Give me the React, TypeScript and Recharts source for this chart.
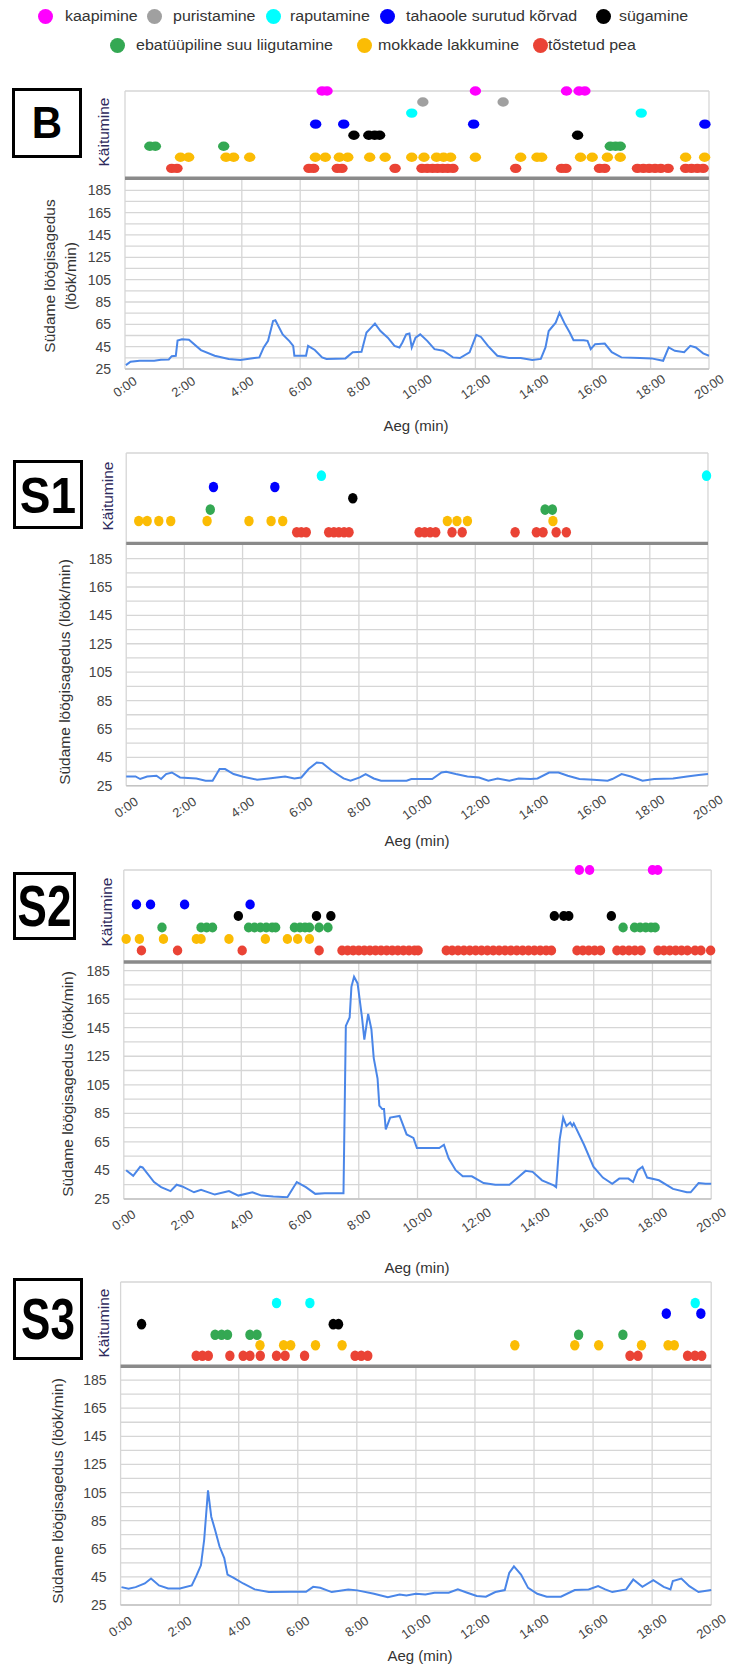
import React from 'react';
import { ScatterChart, Scatter, LineChart, Line, XAxis, YAxis, CartesianGrid, ReferenceLine } from 'recharts';

// ---------- shared axes ----------
const timeTicks = [0, 2, 4, 6, 8, 10, 12, 14, 16, 18, 20];
const timeTickLabels = ['0:00', '2:00', '4:00', '6:00', '8:00', '10:00', '12:00', '14:00', '16:00', '18:00', '20:00'];
const hrGridTicks = [25, 35, 45, 55, 65, 75, 85, 95, 105, 115, 125, 135, 145, 155, 165, 175, 185];
const hrLabelTicks = [25, 45, 65, 85, 105, 125, 145, 165, 185];
const behaviorRows = [1, 2, 3, 4, 5, 6, 7, 8];

// ---------- behaviours (legend order) ----------
const behaviorKeys = ['kaapimine', 'puristamine', 'raputamine', 'korvad', 'sugamine', 'suu', 'mokad', 'pea'];
const behaviorNames = ['kaapimine', 'puristamine', 'raputamine', 'tahaoole surutud kõrvad', 'sügamine', 'ebatüüpiline suu liigutamine', 'mokkade lakkumine', 'tõstetud pea'];
const behaviorColors = ['#ff00ff', '#a0a0a0', '#00ffff', '#0000ff', '#000000', '#34a853', '#fbbc04', '#ea4335'];
const behaviorRowOf = [8, 7, 6, 5, 4, 3, 2, 1];

// ---------- B ----------
const B_kaapimine = [6.75, 6.92, 12.0, 15.12, 15.55, 15.75];
const B_puristamine = [10.2, 12.95];
const B_raputamine = [9.82, 17.68];
const B_korvad = [6.53, 7.49, 11.94, 19.86];
const B_sugamine = [7.84, 8.35, 8.55, 8.72, 15.5];
const B_suu = [0.85, 1.04, 3.38, 16.62, 16.8, 16.96];
const B_mokad = [1.9, 2.18, 3.46, 3.72, 4.27, 6.52, 6.86, 7.34, 7.63, 8.38, 8.91, 9.82, 10.24, 10.67, 10.91, 11.15, 12.0, 13.55, 14.11, 14.27, 15.6, 16.0, 16.52, 16.96, 19.2, 19.85];
const B_pea = [1.6, 1.78, 6.3, 6.46, 7.27, 7.43, 9.25, 10.17, 10.35, 10.53, 10.7, 10.88, 11.05, 11.23, 13.38, 14.95, 15.1, 16.25, 16.43, 17.55, 17.75, 17.95, 18.15, 18.35, 18.6, 19.2, 19.4, 19.6, 19.8];
const B_heartRate = [
  [0.03, 28.5], [0.19, 31.5], [0.5, 32.3], [1.0, 32.3], [1.23, 33.3], [1.5, 33.5], [1.6, 36.5], [1.74, 36.8], [1.8, 50.5], [1.95, 51.7], [2.19, 51.2], [2.6, 41.9], [3.07, 36.9], [3.55, 34], [3.95, 33], [4.43, 34.8], [4.6, 35.4], [4.75, 44.3], [4.9, 50.2], [5.07, 68], [5.15, 68.6], [5.4, 56], [5.63, 50], [5.76, 45.7], [5.8, 36.9], [6.2, 36.9], [6.27, 45.7], [6.5, 42], [6.75, 35.4], [6.9, 34], [7.55, 34.5], [7.8, 40], [8.1, 40.5], [8.27, 57.6], [8.43, 62], [8.56, 65.6], [8.75, 59], [9.0, 53], [9.23, 45.7], [9.4, 44.3], [9.5, 48.7], [9.63, 56], [9.74, 56.7], [9.82, 44.3], [9.95, 53], [10.11, 56], [10.35, 50.2], [10.6, 42.8], [10.9, 41.3], [11.23, 35.4], [11.47, 34.8], [11.8, 40], [12.03, 55.5], [12.19, 53.7], [12.43, 45.7], [12.75, 36.9], [13.15, 34.8], [13.55, 34.8], [13.95, 33], [14.24, 34], [14.4, 44.3], [14.51, 59], [14.75, 66.5], [14.88, 75.4], [15.07, 65], [15.23, 57.6], [15.36, 50.8], [15.71, 50.8], [15.84, 50.2], [15.95, 42.8], [16.1, 47.2], [16.43, 47.8], [16.67, 40], [17.0, 35.4], [17.63, 34.8], [18.03, 34.5], [18.43, 32.4], [18.62, 44.3], [18.83, 41.3], [19.15, 40], [19.36, 45.7], [19.55, 44.3], [19.8, 39], [20, 36.9],
];

// ---------- S1 ----------
const S1_raputamine = [6.71, 19.95];
const S1_korvad = [3.0, 5.11];
const S1_sugamine = [7.79];
const S1_suu = [2.89, 14.4, 14.65];
const S1_mokad = [0.43, 0.72, 1.12, 1.53, 2.78, 4.22, 4.98, 5.38, 11.04, 11.37, 11.73, 14.67];
const S1_pea = [5.86, 6.02, 6.19, 6.96, 7.14, 7.31, 7.49, 7.66, 10.07, 10.26, 10.45, 10.64, 11.2, 11.55, 13.37, 14.1, 14.33, 14.78, 15.13];
const S1_heartRate = [
  [0, 31.5], [0.32, 31.5], [0.48, 29.7], [0.72, 31.5], [1.04, 32], [1.2, 29.7], [1.37, 33.2], [1.57, 34.3], [1.85, 30.8], [2.41, 30.1], [2.73, 28.5], [2.97, 28.5], [3.21, 36.7], [3.4, 36.7], [3.69, 33.2], [4.02, 31.3], [4.5, 29.2], [4.9, 30.1], [5.46, 31.5], [5.78, 30.1], [6.02, 30.8], [6.27, 36.7], [6.55, 41.3], [6.75, 40.9], [7.07, 35.5], [7.47, 30.1], [7.71, 28.5], [8.03, 30.8], [8.23, 33.2], [8.51, 30.1], [8.76, 28.5], [9.64, 28.5], [9.8, 29.7], [10.52, 29.7], [10.84, 34.3], [11.0, 34.8], [11.33, 33.2], [11.73, 31.5], [12.13, 30.8], [12.45, 28.5], [12.77, 30.1], [13.17, 28.5], [13.49, 30.1], [13.9, 29.7], [14.14, 30.1], [14.54, 34.3], [14.86, 34.3], [15.18, 32.0], [15.58, 29.7], [16.06, 29.2], [16.55, 28.5], [16.71, 29.7], [17.03, 33.2], [17.35, 31.5], [17.75, 28.5], [18.15, 29.7], [18.8, 30.1], [19.28, 31.5], [19.68, 32.5], [20, 33.2],
];

// ---------- S2 ----------
const S2_kaapimine = [15.51, 15.86, 18.0, 18.18];
const S2_korvad = [0.43, 0.91, 2.07, 4.3];
const S2_sugamine = [3.9, 6.56, 7.05, 14.66, 14.98, 15.15, 16.6];
const S2_suu = [1.3, 2.63, 2.82, 3.02, 4.25, 4.45, 4.65, 4.85, 5.05, 5.17, 5.81, 6.0, 6.17, 6.32, 6.65, 6.95, 17.0, 17.39, 17.58, 17.77, 17.95, 18.09];
const S2_mokad = [0.08, 0.53, 1.35, 2.47, 2.63, 3.58, 4.82, 5.57, 5.92, 6.32];
const S2_pea = [0.6, 1.83, 4.03, 6.65,
  7.43, 7.62, 7.81, 8.0, 8.19, 8.38, 8.57, 8.76, 8.95, 9.14, 9.33, 9.52, 9.71, 9.9, 10.02,
  10.98, 11.18, 11.38, 11.58, 11.78, 11.98, 12.18, 12.38, 12.58, 12.78, 12.98, 13.18, 13.38, 13.58, 13.78, 13.98, 14.18, 14.38, 14.56,
  15.43, 15.63, 15.83, 16.03, 16.23, 16.79, 16.99, 17.2, 17.4, 17.61,
  18.19, 18.39, 18.59, 18.79, 18.99, 19.19, 19.45, 19.65, 19.98];
const S2_heartRate = [
  [0.08, 45.2], [0.32, 41.2], [0.56, 47.6], [0.64, 47.1], [1.03, 36.9], [1.27, 33.3], [1.59, 30.5], [1.8, 35], [1.99, 33.8], [2.39, 29.7], [2.63, 31.4], [3.1, 28.1], [3.58, 30.5], [3.9, 27.4], [4.38, 29.7], [4.69, 27.4], [5.09, 26.7], [5.57, 26.2], [5.89, 36.9], [6.2, 33.3], [6.52, 28.6], [6.84, 29.0], [7.48, 29.0], [7.56, 146.2], [7.69, 152.2], [7.75, 173.6], [7.84, 180.7], [7.96, 176], [8.11, 152.2], [8.19, 136.7], [8.32, 154.6], [8.43, 143.9], [8.51, 123.7], [8.64, 109.4], [8.7, 90.4], [8.8, 88], [8.86, 88], [8.92, 73.7], [9.07, 82], [9.39, 83.2], [9.63, 70.2], [9.86, 67.8], [9.98, 60.7], [10.74, 60.7], [10.9, 63], [11.06, 53.5], [11.3, 45.2], [11.54, 40.9], [11.85, 40.9], [12.25, 36.2], [12.65, 35], [13.13, 35], [13.44, 40.4], [13.68, 44.7], [13.92, 44], [14.24, 38.1], [14.64, 34.5], [14.72, 33.3], [14.84, 66.6], [14.96, 82], [15.07, 76.1], [15.2, 78.5], [15.27, 76.1], [15.32, 78], [15.67, 63], [15.99, 47.6], [16.31, 40], [16.63, 35.7], [16.87, 39.3], [17.18, 39.3], [17.34, 36.9], [17.5, 45.2], [17.66, 47.6], [17.82, 40], [18.22, 38.1], [18.7, 32.1], [19.17, 29.7], [19.3, 29.7], [19.57, 36.2], [19.81, 35.7], [20, 35.7],
];

// ---------- S3 ----------
const S3_raputamine = [5.28, 6.41, 19.46];
const S3_korvad = [18.48, 19.65];
const S3_sugamine = [0.71, 7.2, 7.38];
const S3_suu = [3.2, 3.42, 3.62, 4.38, 4.62, 15.51, 17.01];
const S3_mokad = [4.72, 5.52, 5.76, 6.6, 7.5, 13.35, 15.38, 16.19, 17.64, 18.54, 18.75];
const S3_pea = [2.56, 2.77, 2.97, 3.7, 4.15, 4.38, 4.73, 5.28, 5.57, 6.23, 7.94, 8.15, 8.37, 17.25, 17.52, 19.2, 19.45, 19.68];
const S3_heartRate = [
  [0.03, 37.7], [0.27, 36.5], [0.51, 37.7], [0.82, 40.3], [1.03, 43.8], [1.3, 38.9], [1.61, 36.8], [2.01, 36.8], [2.41, 38.9], [2.56, 45.5], [2.72, 53.2], [2.83, 71.4], [2.96, 106.6], [3.07, 87.8], [3.2, 78.4], [3.35, 66.6], [3.51, 58.4], [3.62, 46.6], [3.83, 44.3], [4.15, 40.3], [4.54, 36.1], [5.02, 34.2], [5.73, 34.4], [6.28, 34.4], [6.52, 37.9], [6.76, 37.2], [7.15, 34.2], [7.71, 36.1], [8.02, 35.4], [8.58, 33], [9.05, 30.6], [9.45, 32.5], [9.68, 31.8], [10.0, 33], [10.32, 32.5], [10.63, 33.7], [11.11, 33.7], [11.42, 36.1], [11.74, 33.7], [12.06, 31.4], [12.37, 30.9], [12.69, 34.2], [13.01, 35.6], [13.16, 47.8], [13.32, 52.5], [13.56, 46.6], [13.8, 37.2], [14.11, 33], [14.43, 30.9], [14.91, 30.9], [15.38, 35.6], [15.85, 36.1], [16.17, 38.4], [16.41, 36.1], [16.65, 34.2], [17.12, 36.1], [17.36, 43.1], [17.67, 37.9], [18.04, 42.6], [18.39, 37.9], [18.62, 36.1], [18.7, 42.1], [18.99, 43.8], [19.26, 38.4], [19.57, 34.2], [20, 35.6],
];

// ---------- layout ----------
const FONT = '"Liberation Sans", Arial, Helvetica, sans-serif';
const W = 733;

const panels = [
  {
    label: 'B', left: 125, right: 709, rx: 5.7, ry: 4.7,
    stripTop: 91, stripBottom: 178.3, stripMin: 0.1,
    hrBottom: 369.3, hrMax: 196,
    box: { x: 12, y: 88, w: 70, h: 70, fs: 42, sy: 1.05 },
    kait: [104, 132], ytitle: [59.5, 276], twoLine: true, aeg: [416, 425], tickOff: 17.7,
    events: { kaapimine: B_kaapimine, puristamine: B_puristamine, raputamine: B_raputamine, korvad: B_korvad, sugamine: B_sugamine, suu: B_suu, mokad: B_mokad, pea: B_pea },
    hr: B_heartRate,
  },
  {
    label: 'S1', left: 126.2, right: 708, rx: 4.7, ry: 5.3,
    stripTop: 452.7, stripBottom: 543.3, stripMin: 0,
    hrBottom: 786, hrMax: 196,
    box: { x: 13, y: 460, w: 70, h: 69, fs: 46, sy: 1.1 },
    kait: [108.4, 496], ytitle: [65.4, 672], twoLine: false, aeg: [417, 840], tickOff: 21.5,
    events: { raputamine: S1_raputamine, korvad: S1_korvad, sugamine: S1_sugamine, suu: S1_suu, mokad: S1_mokad, pea: S1_pea },
    hr: S1_heartRate,
  },
  {
    label: 'S2', left: 123.8, right: 711.2, rx: 4.7, ry: 5,
    stripTop: 870, stripBottom: 962, stripMin: 0,
    hrBottom: 1199, hrMax: 191,
    box: { x: 13, y: 872, w: 63, h: 68, fs: 44, sy: 1.3 },
    kait: [106.5, 912], ytitle: [67.8, 1084], twoLine: false, aeg: [417, 1267], tickOff: 21,
    events: { kaapimine: S2_kaapimine, korvad: S2_korvad, sugamine: S2_sugamine, suu: S2_suu, mokad: S2_mokad, pea: S2_pea },
    hr: S2_heartRate,
  },
  {
    label: 'S3', left: 120.6, right: 711.2, rx: 4.7, ry: 5.3,
    stripTop: 1281.7, stripBottom: 1366, stripMin: 0,
    hrBottom: 1605, hrMax: 195,
    box: { x: 13, y: 1278, w: 70, h: 82, fs: 44, sy: 1.3 },
    kait: [103.7, 1323], ytitle: [58.4, 1491], twoLine: false, aeg: [420, 1655], tickOff: 21.5,
    events: { raputamine: S3_raputamine, korvad: S3_korvad, sugamine: S3_sugamine, suu: S3_suu, mokad: S3_mokad, pea: S3_pea },
    hr: S3_heartRate,
  },
];

const legendRow1 = [0, 1, 2, 3, 4];
const legendRow2 = [5, 6, 7];
const legendDotX = [45, 154, 273, 387, 603, 117, 364.5, 540];
const legendTextX = [65, 173, 290, 406, 619, 135.5, 377.6, 548];

function TimeTick(props: any) {
  const { x, y, payload, off } = props;
  const i = timeTicks.indexOf(payload.value);
  return (
    <g transform={`translate(${x},${y + off}) rotate(-35)`}>
      <text x={0} y={0} textAnchor="middle" dominantBaseline="central" fontSize={13} fill="#444" fontFamily={FONT}>
        {timeTickLabels[i]}
      </text>
    </g>
  );
}

function HrTick(props: any) {
  const { x, y, payload } = props;
  if (hrLabelTicks.indexOf(payload.value) < 0) return <g />;
  return (
    <text x={x} y={y} textAnchor="end" dominantBaseline="central" fontSize={14} fill="#444" fontFamily={FONT}>
      {payload.value}
    </text>
  );
}

const PAD = 8;

function Panel({ p }: { p: any }) {
  const stripH = p.stripBottom - p.stripTop;
  const hrH = p.hrBottom - p.stripBottom;
  const hrData = p.hr.map((d: number[]) => ({ t: d[0], v: d[1] }));
  const rotated = (cx: number, cy: number, extra: any = {}) => ({
    position: 'absolute' as const, left: cx, top: cy, transform: 'translate(-50%,-50%) rotate(-90deg)',
    whiteSpace: 'nowrap' as const, textAlign: 'center' as const, ...extra,
  });
  return (
    <>
      <div style={{ position: 'absolute', left: p.box.x, top: p.box.y, width: p.box.w, height: p.box.h, border: '3px solid #000', boxSizing: 'border-box', display: 'flex', alignItems: 'center', justifyContent: 'center', background: '#fff' }}>
        <span style={{ fontSize: p.box.fs, fontWeight: 'bold', fontFamily: FONT, color: '#000', display: 'inline-block', transform: `scaleY(${p.box.sy})`, lineHeight: 1 }}>{p.label}</span>
      </div>
      <div style={rotated(p.kait[0], p.kait[1], { fontSize: 15.5, fontFamily: FONT, color: '#2e2a5c' })}>Käitumine</div>
      {p.twoLine ? (
        <div style={rotated(p.ytitle[0], p.ytitle[1], { fontSize: 15.5, fontFamily: FONT, color: '#333', lineHeight: '21px' })}>
          Südame löögisagedus<br />(löök/min)
        </div>
      ) : (
        <div style={rotated(p.ytitle[0], p.ytitle[1], { fontSize: 15.5, fontFamily: FONT, color: '#333' })}>Südame löögisagedus (löök/min)</div>
      )}
      <div style={{ position: 'absolute', left: p.aeg[0], top: p.aeg[1], transform: 'translate(-50%,-50%)', fontSize: 15, fontFamily: FONT, color: '#333', whiteSpace: 'nowrap' }}>Aeg (min)</div>

      <div style={{ position: 'absolute', left: 0, top: p.stripBottom }}>
        <LineChart width={W} height={hrH + 50} data={hrData} margin={{ top: 0, right: W - p.right, left: 0, bottom: 0 }}>
          <CartesianGrid stroke="#d6d6d6" strokeWidth={1.3} />
          <XAxis type="number" dataKey="t" domain={[0, 20]} ticks={timeTicks} interval={0} height={50} tickSize={0} tickMargin={0}
            axisLine={{ stroke: '#c4c4c4', strokeWidth: 1.5 }} tick={<TimeTick off={p.tickOff} />} />
          <YAxis type="number" domain={[25, p.hrMax]} ticks={hrGridTicks} interval={0} width={p.left} tickSize={0} tickMargin={14}
            axisLine={false} tick={<HrTick />} allowDataOverflow />
          <Line dataKey="v" type="linear" stroke="#4a86e8" strokeWidth={2} dot={false} isAnimationActive={false} />
        </LineChart>
      </div>

      <div style={{ position: 'absolute', left: 0, top: p.stripTop - PAD }}>
        <ScatterChart width={W} height={stripH + PAD + 2} margin={{ top: PAD, right: W - p.right, left: 0, bottom: 2 }} style={{ overflow: 'visible' }}>
          <CartesianGrid stroke="#d6d6d6" strokeWidth={1.3} />
          <XAxis type="number" dataKey="t" domain={[0, 20]} ticks={timeTicks} interval={0} height={0} tick={false} tickLine={false} axisLine={false} />
          <YAxis type="number" dataKey="row" domain={[p.stripMin, 8]} ticks={behaviorRows} interval={0} width={p.left} tick={false} tickLine={false} axisLine={false} />
          <ReferenceLine y={p.stripMin} stroke="#8a8a8a" strokeWidth={3.5} />
          {behaviorKeys.map((k, i) => {
            const times: number[] | undefined = p.events[k];
            if (!times) return null;
            const color = behaviorColors[i];
            return (
              <Scatter key={k} data={times.map((t) => ({ t, row: behaviorRowOf[i] }))} fill={color} isAnimationActive={false}
                shape={(sp: any) => <ellipse cx={sp.cx} cy={sp.cy} rx={p.rx} ry={p.ry} fill={color} />} />
            );
          })}
        </ScatterChart>
      </div>
    </>
  );
}

function LegendItem({ i, y }: { i: number; y: number }) {
  return (
    <>
      <div style={{ position: 'absolute', left: legendDotX[i] - 7.5, top: y - 7.5, width: 15, height: 15, borderRadius: '50%', background: behaviorColors[i] }} />
      <div style={{ position: 'absolute', left: legendTextX[i], top: y, transform: 'translateY(-50%) scaleX(1.14)', transformOrigin: 'left center', fontSize: 14, fontFamily: FONT, color: '#333', whiteSpace: 'nowrap', lineHeight: 1 }}>
        {behaviorNames[i]}
      </div>
    </>
  );
}

export default function App() {
  return (
    <div style={{ position: 'absolute', left: 0, top: 0, width: W, height: 1664, background: '#fff', overflow: 'hidden' }}>
      {legendRow1.map((i) => <LegendItem key={i} i={i} y={16} />)}
      {legendRow2.map((i) => <LegendItem key={i} i={i} y={45} />)}
      {panels.map((p) => <Panel key={p.label} p={p} />)}
    </div>
  );
}
